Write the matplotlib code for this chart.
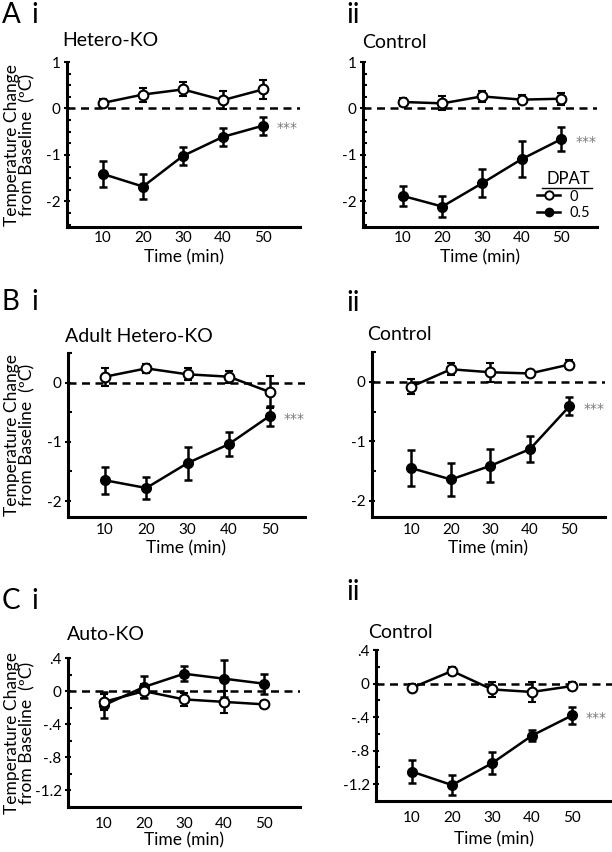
import matplotlib
matplotlib.use("Agg")
import matplotlib.pyplot as plt
from matplotlib.lines import Line2D
from matplotlib.ticker import MultipleLocator, FixedLocator

plt.rcParams['font.family'] = ['Lato', 'DejaVu Sans']
plt.rcParams['axes.unicode_minus'] = False

W, H = 612, 852

time = [10, 20, 30, 40, 50]

# Panel A i: Hetero-KO
a1_veh = [0.12, 0.30, 0.41, 0.18, 0.41]
a1_veh_err = [0.08, 0.15, 0.15, 0.19, 0.21]
a1_dpat = [-1.41, -1.68, -1.02, -0.61, -0.37]
a1_dpat_err = [0.28, 0.27, 0.20, 0.20, 0.19]

# Panel A ii: Control
a2_veh = [0.14, 0.11, 0.26, 0.19, 0.21]
a2_veh_err = [0.08, 0.15, 0.12, 0.10, 0.13]
a2_dpat = [-1.88, -2.11, -1.61, -1.09, -0.66]
a2_dpat_err = [0.22, 0.22, 0.30, 0.39, 0.26]

# Panel B i: Adult Hetero-KO
b1_veh = [0.10, 0.24, 0.14, 0.10, -0.16]
b1_veh_err = [0.15, 0.08, 0.10, 0.10, 0.27]
b1_dpat = [-1.65, -1.78, -1.36, -1.04, -0.56]
b1_dpat_err = [0.23, 0.19, 0.28, 0.20, 0.17]

# Panel B ii: Control
b2_veh = [-0.08, 0.21, 0.16, 0.14, 0.29]
b2_veh_err = [0.12, 0.10, 0.16, 0.05, 0.08]
b2_dpat = [-1.45, -1.64, -1.41, -1.13, -0.41]
b2_dpat_err = [0.30, 0.28, 0.28, 0.22, 0.15]

# Panel C i: Auto-KO
c1_veh = [-0.13, 0.00, -0.10, -0.13, -0.16]
c1_veh_err = [0.10, 0.08, 0.08, 0.13, 0.04]
c1_dpat = [-0.17, 0.05, 0.21, 0.15, 0.09]
c1_dpat_err = [0.16, 0.13, 0.09, 0.22, 0.12]

# Panel C ii: Control
c2_veh = [-0.05, 0.15, -0.07, -0.10, -0.03]
c2_veh_err = [0.04, 0.05, 0.09, 0.12, 0.05]
c2_dpat = [-1.05, -1.21, -0.95, -0.62, -0.38]
c2_dpat_err = [0.14, 0.12, 0.13, 0.07, 0.10]

ticks_A = [1, 0, -1, -2]
labels_A = ['1', '0', '-1', '-2']
ticks_B = [0, -1, -2]
labels_B = ['0', '-1', '-2']
ticks_C = [0.4, 0.0, -0.4, -0.8, -1.2]
labels_C = ['.4', '0', '-.4', '-.8', '-1.2']

titles = ['Hetero-KO', 'Control', 'Adult Hetero-KO', 'Control', 'Auto-KO', 'Control']
legend_title = 'DPAT'
legend_labels = ['0', '0.5']
ylabel_text = 'Temperature Change\nfrom Baseline  (\u00baC)'

panels = [
    dict(box=(67, 62, 300, 227), xlim=(1, 59.25), ylim=(-2.55, 1.0),
         yt=ticks_A, yl=labels_A, minor=0.25, title=titles[0], tx=62, ty=40,
         tag='A', sub='i', sy=15, veh=a1_veh, veh_err=a1_veh_err,
         dpat=a1_dpat, dpat_err=a1_dpat_err, stars=True, ylab=True,
         tpad=3, lpad=3),
    dict(box=(363, 62, 597, 227), xlim=(0, 59), ylim=(-2.55, 1.0),
         yt=ticks_A, yl=labels_A, minor=0.25, title=titles[1], tx=362, ty=42,
         tag='', sub='ii', sy=15, veh=a2_veh, veh_err=a2_veh_err,
         dpat=a2_dpat, dpat_err=a2_dpat_err, stars=True, ylab=False, legend=True,
         tpad=3, lpad=3),
    dict(box=(68, 353, 305, 517), xlim=(1, 58.5), ylim=(-2.27, 0.5),
         yt=ticks_B, yl=labels_B, minor=0.5, title=titles[2], tx=65, ty=337,
         tag='B', sub='i', sy=302, veh=b1_veh, veh_err=b1_veh_err,
         dpat=b1_dpat, dpat_err=b1_dpat_err, stars=True, ylab=True,
         tpad=4, lpad=3),
    dict(box=(372, 352, 605, 517), xlim=(0, 59), ylim=(-2.27, 0.5),
         yt=ticks_B, yl=labels_B, minor=0.5, title=titles[3], tx=367, ty=335,
         tag='', sub='ii', sy=303, veh=b2_veh, veh_err=b2_veh_err,
         dpat=b2_dpat, dpat_err=b2_dpat_err, stars=True, ylab=False,
         tpad=4, lpad=3),
    dict(box=(68, 658, 300, 807), xlim=(1, 59), ylim=(-1.4, 0.4),
         yt=ticks_C, yl=labels_C, minor=0.2, title=titles[4], tx=67, ty=635,
         tag='C', sub='i', sy=601, veh=c1_veh, veh_err=c1_veh_err,
         dpat=c1_dpat, dpat_err=c1_dpat_err, stars=False, ylab=True,
         tpad=7, lpad=1),
    dict(box=(376, 650, 612, 801), xlim=(1, 60), ylim=(-1.4, 0.4),
         yt=ticks_C, yl=labels_C, minor=0.2, title=titles[5], tx=368, ty=633,
         tag='', sub='ii', sy=592, veh=c2_veh, veh_err=c2_veh_err,
         dpat=c2_dpat, dpat_err=c2_dpat_err, stars=True, ylab=False,
         tpad=7, lpad=5),
]

fig = plt.figure(figsize=(W / 100, H / 100), dpi=100)


def fx(px):
    return px / W


def fy(py):
    return 1 - py / H


LW = 1.8
for p in panels:
    l, t, r, b = p['box']
    ax = fig.add_axes([fx(l), fy(b), fx(r - l), (b - t) / H])
    ax.set_xlim(*p['xlim'])
    ax.set_ylim(*p['ylim'])
    for s in ['top', 'right']:
        ax.spines[s].set_visible(False)
    for s in ['left', 'bottom']:
        ax.spines[s].set_linewidth(2.2)
    ax.axhline(0, color='black', lw=1.8, ls=(0, (3.2, 2.2)), zorder=1)

    ax.errorbar(time, p['dpat'], yerr=p['dpat_err'], color='black', lw=LW,
                marker='o', ms=7, mfc='black', mec='black',
                elinewidth=1.8, capsize=3, capthick=1.8, zorder=3)
    ax.errorbar(time, p['veh'], yerr=p['veh_err'], color='black', lw=LW,
                marker='o', ms=7, mfc='white', mec='black', mew=1.5,
                elinewidth=1.8, capsize=3, capthick=1.8, zorder=4)

    ax.set_xticks(time)
    ax.set_xticklabels([str(v) for v in time], fontsize=11)
    ax.tick_params(axis='x', length=0, pad=p['tpad'])
    ax.yaxis.set_major_locator(FixedLocator(p['yt']))
    ax.set_yticklabels(p['yl'], fontsize=11)
    ax.yaxis.set_minor_locator(MultipleLocator(p['minor']))
    ax.tick_params(axis='y', which='major', direction='inout', length=5, width=1.5, pad=2)
    ax.tick_params(axis='y', which='minor', direction='in', length=3, width=1.5)
    ax.set_xlabel('Time (min)', fontsize=12.5, labelpad=p['lpad'])

    if p['stars']:
        ax.annotate('***', xy=(time[-1], p['dpat'][-1]), xytext=(10, -2),
                    textcoords='offset points', va='center', ha='left',
                    fontsize=10, color='#7a7a7a', family='DejaVu Sans')

    fig.text(fx(p['tx']), fy(p['ty']), p['title'], fontsize=14, va='center', ha='left')
    if p['tag']:
        fig.text(fx(2), fy(p['sy']), p['tag'], fontsize=20, va='center', ha='left')
        fig.text(fx(31), fy(p['sy']), p['sub'], fontsize=20, va='center', ha='left')
    else:
        fig.text(fx(346), fy(p['sy']), p['sub'], fontsize=20, va='center', ha='left')

    if p['ylab']:
        fig.text(fx(20), fy((t + b) / 2), ylabel_text,
                 rotation=90, fontsize=12.5, ha='center', va='center',
                 linespacing=0.95)

    if p.get('legend'):
        h0 = Line2D([], [], color='black', lw=LW, marker='o', ms=6, mfc='white',
                    mec='black', mew=1.4)
        h1 = Line2D([], [], color='black', lw=LW, marker='o', ms=6, mfc='black',
                    mec='black')
        leg = ax.legend([h0, h1], legend_labels, title=legend_title, frameon=False,
                        loc='lower right', bbox_to_anchor=(1.0, 0.0), fontsize=10.5,
                        title_fontsize=12, handlelength=1.6, handletextpad=0.6,
                        labelspacing=0.15, borderpad=0.0)
        leg._legend_box.align = 'right'
        fig.canvas.draw()
        tb = leg.get_title().get_window_extent()
        x0, x1 = tb.x0 - 4, tb.x1 + 2
        yy = tb.y0 - 1
        fig.add_artist(Line2D([x0 / W, x1 / W], [yy / H, yy / H],
                              transform=fig.transFigure, color='black', lw=1.0))

fig.savefig('out.png', dpi=100)
